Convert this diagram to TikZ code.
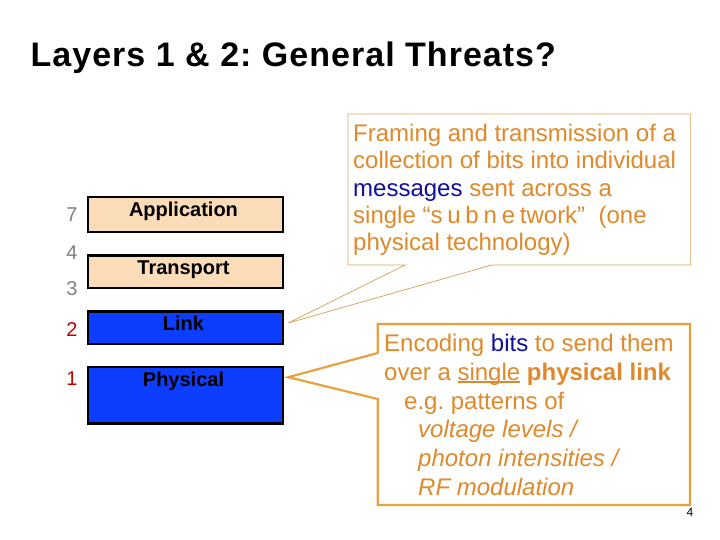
\documentclass[tikz,border=0pt]{standalone}
\usepackage{fontspec}
\setmainfont{Liberation Sans}
\newfontfamily\titlefont[LetterSpace=3.0]{Liberation Sans}
\usetikzlibrary{calc}
\frenchspacing
\definecolor{peach}{HTML}{FADCB8}
\definecolor{layblue}{HTML}{0D3DFF}
\definecolor{numgray}{HTML}{808080}
\definecolor{numred}{HTML}{C00000}
\definecolor{ortext}{HTML}{E0892A}
\definecolor{orline}{HTML}{D9A860}
\definecolor{orline2}{HTML}{E8A040}
\definecolor{msgblue}{HTML}{10109A}
\newlength\myulw
\newcommand\thickul[1]{\settowidth{\myulw}{#1}\rlap{\rule[-2.6pt]{\myulw}{1.8pt}}#1}
\tikzset{
  layer/.style={draw=black, line width=2.5pt, minimum width=195pt, anchor=north west, inner sep=0pt},
  laylabel/.style={font=\fontsize{20}{22}\selectfont\bfseries, anchor=base, inner sep=0pt},
  num/.style={font=\fontsize{20}{22}\selectfont, anchor=base, inner sep=0pt},
  calltext/.style={text=ortext, align=left, anchor=north west, inner sep=0pt}
}
\begin{document}
\begin{tikzpicture}[x=1pt,y=-1pt]
\useasboundingbox (0,0) rectangle (720,540);
\fill[white] (0,0) rectangle (720,540);
% title
\node[font=\titlefont\fontsize{34}{36}\selectfont\bfseries, anchor=base west, inner sep=0pt] (title) at (30.5,66.7) {Layers 1 \& 2: General Threats?};
% layers
\node[layer, fill=peach, minimum height=34.7pt] (app) at (86.7,196) {};
\node[layer, fill=peach, minimum height=32.7pt] (trans) at (86.7,254) {};
\node[layer, fill=layblue, minimum height=32.7pt] (link) at (86.7,310) {};
\node[layer, fill=layblue, minimum height=56.6pt] (phys) at (86.7,365.7) {};
\node[laylabel] (appl) at (183.5,216) {Application};
\node[laylabel] (transl) at (183.5,274.3) {Transport};
\node[laylabel] (linkl) at (183.5,330) {Link};
\node[laylabel] (physl) at (183.5,386) {Physical};
% numbers
\node[num, text=numgray] (n7) at (72,221.7) {7};
\node[num, text=numgray] (n4) at (72,259) {4};
\node[num, text=numgray] (n3) at (72,295.5) {3};
\node[num, text=numred] (n2) at (72,336) {2};
\node[num, text=numred] (n1) at (72,385) {1};
% callout 1
\coordinate (tip1) at ($(link.north east)+(4,13)$);
\draw[orline, line width=0.8pt, fill=white] (348,114) -- (690.7,114) -- (690.7,265) -- (491.7,265) -- (tip1) -- (405,265) -- (348,265) -- cycle;
\node[calltext, font=\fontsize{24}{27.2}\selectfont] (c1) at (353,124.2) {Framing and transmission of a\\
collection of bits into individual\\
\textcolor{msgblue}{messages} sent across a\\
single “{\spaceskip=0.2em\relax s u b n e twork}”~ (one\\
physical technology)};
% callout 2
\coordinate (tip2) at ($(phys.north east)+(4,11.5)$);
\draw[orline2, line width=2.2pt, fill=white] (377.7,324) -- (690,324) -- (690,505) -- (377.7,505) -- (377.7,399) -- (tip2) -- (377.7,353) -- cycle;
\node[calltext, font=\fontsize{24}{28.7}\selectfont] (c2) at (384,334.2) {Encoding \textcolor{msgblue}{bits} to send them\\
over a \thickul{single} \textbf{physical link}\\
\hspace*{20pt}e.g. patterns of\\
\hspace*{34pt}\textit{voltage levels /}\\
\hspace*{34pt}\textit{photon intensities /}\\
\hspace*{34pt}\textit{RF modulation}};
% page number
\node[font=\fontsize{12}{14}\selectfont, anchor=base, inner sep=0pt] (pg) at (690,516) {4};
\end{tikzpicture}
\end{document}
